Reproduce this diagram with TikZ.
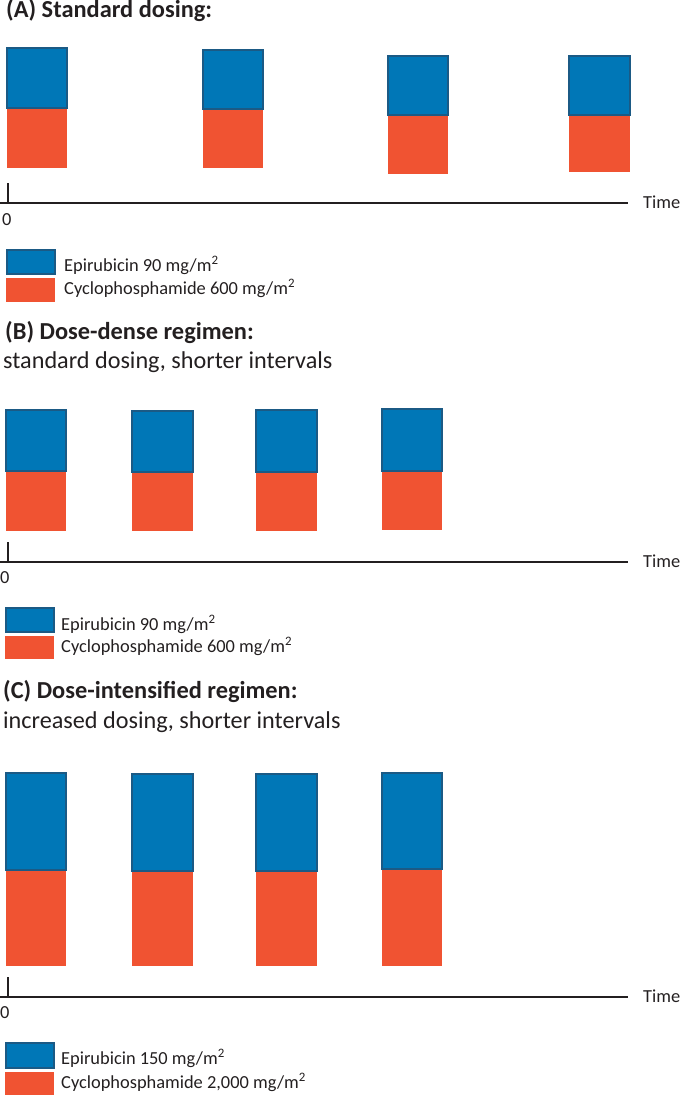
\documentclass[tikz,border=0pt]{standalone}
\usepackage{fontspec}
\setmainfont{Carlito}
\definecolor{epifill}{HTML}{0077B7}
\definecolor{epiline}{HTML}{1B5A85}
\definecolor{cycfill}{HTML}{F05332}
\definecolor{axisc}{HTML}{231F20}
\tikzset{
  epibox/.style={fill=epifill,draw=epiline,line width=1.8pt},
  cycbox/.style={fill=cycfill},
  axisline/.style={draw=axisc,line width=2.8pt},
  tickline/.style={draw=axisc,line width=1.6pt},
  titletext/.style={anchor=base west,inner sep=0pt,font=\fontsize{24.4}{28}\selectfont\bfseries,text=axisc},
  subtext/.style={anchor=base west,inner sep=0pt,font=\fontsize{24.2}{28}\selectfont,text=axisc},
  legtext/.style={anchor=base west,inner sep=0pt,font=\fontsize{18.4}{22}\selectfont,text=axisc},
  axtext/.style={anchor=base west,inner sep=0pt,font=\fontsize{18.4}{22}\selectfont,text=axisc},
}
\newcommand\dosebox[5]{%
  \fill[cycbox] (#1,#4) rectangle (#2,#5);
  \draw[epibox] (#1,#3) rectangle (#2,#4);
}
\begin{document}
\begin{tikzpicture}[x=1pt,y=-1pt]
\useasboundingbox (0,0) rectangle (680,1095);
% ---------- Panel A ----------
\node[titletext] (tA) at (6,17) {(A) Standard dosing:};
\dosebox{7}{67}{48}{108}{168}
\dosebox{203}{263}{50}{109}{168}
\dosebox{388}{448}{56}{115}{174}
\dosebox{569}{630}{56}{115}{172}
\coordinate (aL) at (0,203);
\coordinate (aR) at (628,203);
\coordinate (aT) at (8,183);
\coordinate (aB) at (8,203);
\draw[axisline] (aL) -- (aR);
\draw[tickline] (aT) -- (aB);
\node[axtext] (zA) at (2,225) {0};
\node[axtext] (timeA) at (643,208) {Time};
\draw[epibox] (7,250) rectangle (55,274);
\fill[cycbox] (6,278) rectangle (55,302);
\node[legtext] (lA1) at (64,271) {Epirubicin 90 mg/m\textsuperscript{2}};
\node[legtext] (lA2) at (64,294) {Cyclophosphamide 600 mg/m\textsuperscript{2}};
% ---------- Panel B ----------
\node[titletext] (tB) at (5,339) {(B) Dose-dense regimen:};
\node[subtext] (sB) at (3,368) {standard dosing, shorter intervals};
\dosebox{6}{66}{410}{471}{531}
\dosebox{132}{193}{411}{472}{531}
\dosebox{256}{317}{410}{472}{531}
\dosebox{382}{442}{409}{471}{530}
\coordinate (bL) at (0,562);
\coordinate (bR) at (628,562);
\coordinate (bT) at (8,542);
\coordinate (bB) at (8,562);
\draw[axisline] (bL) -- (bR);
\draw[tickline] (bT) -- (bB);
\node[axtext] (zB) at (0,583) {0};
\node[axtext] (timeB) at (643,567) {Time};
\draw[epibox] (6,608) rectangle (54,632);
\fill[cycbox] (5,636) rectangle (54,659);
\node[legtext] (lB1) at (61,630) {Epirubicin 90 mg/m\textsuperscript{2}};
\node[legtext] (lB2) at (61,652) {Cyclophosphamide 600 mg/m\textsuperscript{2}};
% ---------- Panel C ----------
\node[titletext] (tC) at (3,698) {(C) Dose-intensified regimen:};
\node[subtext] (sC) at (3,728) {increased dosing, shorter intervals};
\dosebox{6}{66}{773}{870}{966}
\dosebox{132}{193}{774}{871}{966}
\dosebox{256}{317}{774}{871}{966}
\dosebox{382}{442}{773}{869}{966}
\coordinate (cL) at (0,997);
\coordinate (cR) at (628,997);
\coordinate (cT) at (8,977);
\coordinate (cB) at (8,997);
\draw[axisline] (cL) -- (cR);
\draw[tickline] (cT) -- (cB);
\node[axtext] (zC) at (0,1018) {0};
\node[axtext] (timeC) at (643,1002) {Time};
\draw[epibox] (6,1043) rectangle (54,1068);
\fill[cycbox] (5,1072) rectangle (54,1095);
\node[legtext] (lC1) at (61,1064) {Epirubicin 150 mg/m\textsuperscript{2}};
\node[legtext] (lC2) at (61,1088) {Cyclophosphamide 2,000 mg/m\textsuperscript{2}};
\end{tikzpicture}
\end{document}
